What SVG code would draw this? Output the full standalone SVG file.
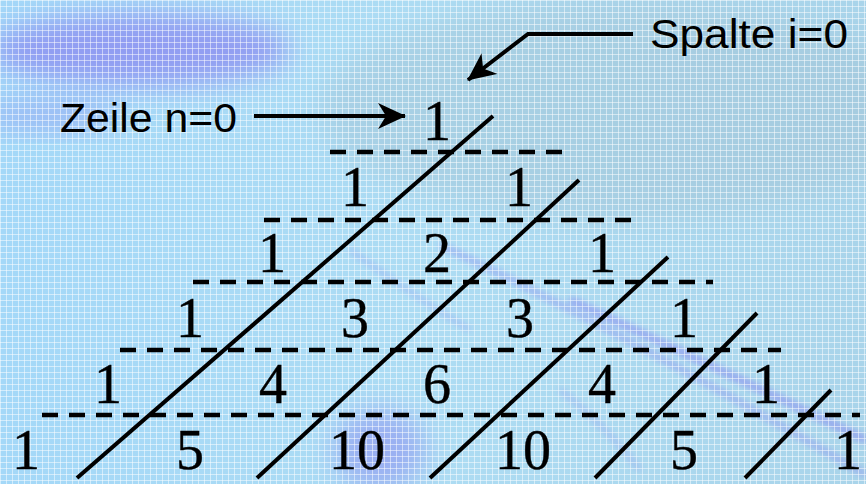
<svg xmlns="http://www.w3.org/2000/svg" width="866" height="484" viewBox="0 0 866 484">
<style>
.num{font-family:"Liberation Serif","Times New Roman",serif;font-size:56px;fill:#000;text-anchor:middle;stroke:#000;stroke-width:0.4}
.lbl{font-family:"Liberation Sans",Arial,sans-serif;font-size:40px;fill:#000}
.dash{stroke:#000;stroke-width:4.5;stroke-dasharray:16 11;fill:none}
.diag{stroke:#000;stroke-width:4;fill:none}
.arr{stroke:#000;stroke-width:4;fill:none;marker-end:url(#head)}
</style>
<defs>
<pattern id="grid" width="6" height="6" patternUnits="userSpaceOnUse">
<path d="M0 0.5H6M0.5 0V6" stroke="#fff" stroke-width="1" stroke-opacity="0.5"/>
</pattern>
<filter id="blur" x="-50%" y="-50%" width="200%" height="200%"><feGaussianBlur stdDeviation="14"/></filter>
<filter id="blur2" x="-20%" y="-50%" width="140%" height="200%"><feGaussianBlur stdDeviation="3"/></filter>
<linearGradient id="bg" x1="0" y1="0" x2="1" y2="0">
<stop offset="0" stop-color="#a4d8f8"/>
<stop offset="0.5" stop-color="#addcf3"/>
<stop offset="1" stop-color="#a9d4ea"/>
</linearGradient>
<marker id="head" viewBox="0 0 28 26" refX="27" refY="13" markerWidth="28" markerHeight="26" markerUnits="userSpaceOnUse" orient="auto">
<path d="M0 0L28 13L0 26L8 13Z" fill="#000"/>
</marker>
</defs>

<g id="background">
<rect width="866" height="484" fill="url(#bg)"/>
<ellipse cx="140" cy="50" rx="150" ry="36" fill="#8884f0" opacity="0.7" filter="url(#blur)"/>
<ellipse cx="50" cy="115" rx="70" ry="14" fill="#8884f0" opacity="0.4" filter="url(#blur)"/>
<ellipse cx="620" cy="110" rx="300" ry="110" fill="#a3c3d4" opacity="0.45" filter="url(#blur)"/>
<ellipse cx="380" cy="450" rx="45" ry="40" fill="#8884f0" opacity="0.5" filter="url(#blur)"/>
<path d="M570 300 Q700 360 866 440" stroke="#8884f0" stroke-width="7" fill="none" opacity="0.6" filter="url(#blur2)"/>
<path d="M440 245 Q620 330 866 475" stroke="#8884f0" stroke-width="6" fill="none" opacity="0.45" filter="url(#blur2)"/>
<path d="M350 250 Q420 300 470 330" stroke="#8884f0" stroke-width="4" fill="none" opacity="0.35" filter="url(#blur2)"/>
<path d="M560 390 Q600 420 640 470" stroke="#8884f0" stroke-width="5" fill="none" opacity="0.3" filter="url(#blur2)"/>
<rect width="866" height="484" fill="url(#grid)"/>
</g>

<g id="grid-lines">
<line class="dash" x1="330" y1="152" x2="570" y2="152"/>
<line class="dash" x1="264" y1="220" x2="642" y2="220"/>
<line class="dash" x1="193" y1="282" x2="713" y2="282"/>
<line class="dash" x1="120" y1="350" x2="781" y2="350"/>
<line class="dash" x1="42" y1="415" x2="860" y2="415"/>
<line class="diag" x1="493" y1="116" x2="77" y2="478"/>
<line class="diag" x1="579" y1="180" x2="257" y2="478"/>
<line class="diag" x1="668" y1="257" x2="430" y2="478"/>
<line class="diag" x1="757" y1="313" x2="595" y2="478"/>
<line class="diag" x1="831" y1="390" x2="745" y2="478"/>
</g>

<g id="label-zeile"><text class="lbl" x="60" y="132" textLength="177" lengthAdjust="spacingAndGlyphs">Zeile n=0</text></g>
<g id="label-spalte"><text class="lbl" x="650" y="48" textLength="198" lengthAdjust="spacingAndGlyphs">Spalte i=0</text></g>

<g id="connectors">
<path class="arr" d="M254 116H405"/>
<path class="arr" d="M633 34H528L468 80"/>
</g>

<g id="row0"><text class="num" x="437" y="140">1</text></g>
<g id="row1"><text class="num" x="355" y="206">1</text><text class="num" x="519" y="206">1</text></g>
<g id="row2"><text class="num" x="272" y="272">1</text><text class="num" x="437" y="272">2</text><text class="num" x="602" y="272">1</text></g>
<g id="row3"><text class="num" x="190" y="337">1</text><text class="num" x="355" y="337">3</text><text class="num" x="520" y="337">3</text><text class="num" x="684" y="337">1</text></g>
<g id="row4"><text class="num" x="108" y="403">1</text><text class="num" x="273" y="403">4</text><text class="num" x="437" y="403">6</text><text class="num" x="602" y="403">4</text><text class="num" x="766" y="403">1</text></g>
<g id="row5"><text class="num" x="26" y="469">1</text><text class="num" x="190" y="469">5</text><text class="num" x="357" y="469">10</text><text class="num" x="523" y="469">10</text><text class="num" x="684" y="469">5</text><text class="num" x="848" y="469">1</text></g>
</svg>
